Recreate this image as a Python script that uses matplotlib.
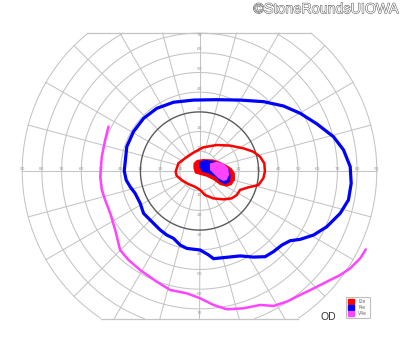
import numpy as np
import matplotlib
matplotlib.use("Agg")
import matplotlib.pyplot as plt
from matplotlib.patches import Patch
import matplotlib.patheffects as pe

# Goldmann visual field, right eye (OD). Coordinates in degrees (x = horizontal, y = vertical).

# I4e isopter (blue, closed)
i4e_x = [-38.2, -36.9, -33.5, -28.4, -21.7, -13.2, -3.0, 8.8, 20.6, 32.5, 42.6, 51.1, 59.6, 68.0,
         73.1, 76.5, 77.0, 75.6, 71.4, 64.6, 57.9, 51.1, 46.0, 41.8, 37.6, 33.3, 27.4, 20.6, 13.9,
         7.1, 4.6, 0.3, -6.4, -9.8, -13.2, -16.6, -20.0, -24.2, -28.4, -30.1, -32.7, -35.2, -37.2]
i4e_y = [0.0, 12.4, 20.0, 26.7, 31.8, 34.9, 36.0, 36.2, 36.0, 35.2, 33.0, 29.3, 23.9, 17.4,
         10.7, 2.2, -6.3, -14.7, -21.5, -28.3, -32.5, -34.7, -35.4, -37.6, -40.9, -43.5, -43.7, -43.1, -43.8,
         -44.5, -42.6, -40.1, -39.3, -37.6, -34.2, -32.5, -29.9, -25.7, -21.5, -16.4, -11.3, -8.0, -4.6]

# V4e isopter (magenta, open)
v4e_x = [-46.2, -47.9, -49.6, -50.4, -49.6, -47.9, -45.3, -42.8, -40.3, -36.0, -30.1, -21.7, -14.9,
         -6.4, 0.3, 7.1, 13.9, 22.3, 30.8, 37.6, 44.3, 51.1, 57.9, 64.6, 71.4, 76.5, 81.6, 84.4]
v4e_y = [22.5, 15.7, 7.3, -2.9, -9.6, -14.7, -21.5, -29.9, -40.1, -45.2, -50.3, -56.2, -60.4,
         -62.1, -64.6, -68.0, -70.2, -69.7, -68.0, -68.5, -66.3, -62.9, -59.6, -56.2, -52.8, -49.4, -44.3, -39.8]

# I2e isopter (red, closed)
i2e_x = [-12.1, -10.7, -7.4, -3.1, 1.9, 8.7, 15.5, 22.3, 27.3, 30.7, 32.9, 33.2, 32.4, 29.9, 24.8,
         20.6, 18.9, 16.3, 12.1, 7.0, 2.8, 0.3, -2.3, -5.7, -9.1, -11.6]
i2e_y = [-0.3, 3.9, 6.4, 9.3, 12.0, 13.2, 12.9, 11.5, 9.8, 7.3, 3.9, -0.3, -3.7, -7.1, -8.3,
         -9.6, -12.2, -13.9, -14.4, -13.9, -12.2, -9.6, -8.0, -6.6, -4.6, -2.4]

# central filled areas
red_fill_x = [-3.1, -1.4, 1.9, 7.0, 10.4, 13.8, 16.3, 18.0, 18.0, 16.3, 13.8, 10.4, 7.0, 3.6, 0.3, -2.3, -3.1]
red_fill_y = [3.9, 5.6, 6.1, 5.9, 4.7, 3.0, 1.4, -1.2, -4.6, -7.1, -8.0, -7.1, -4.6, -2.9, -2.0, -1.2, 1.4]
blue_fill_x = [-0.1, 2.8, 7.0, 11.3, 14.6, 15.8, 15.5, 12.9, 10.4, 7.9, 4.5, 1.1, -0.1]
blue_fill_y = [4.7, 5.6, 5.1, 3.9, 1.4, -2.0, -5.4, -6.8, -5.4, -2.9, -1.2, -0.3, 2.2]
mag_fill_x = [5.3, 8.7, 12.1, 14.6, 15.0, 13.8, 12.1, 9.6, 7.0, 5.3]
mag_fill_y = [3.9, 4.7, 3.9, 1.4, -2.0, -4.6, -5.1, -3.7, -1.2, 0.5]

rings = [10, 20, 30, 40, 50, 60, 70, 80, 90]
meridians = np.arange(0, 360, 15)
h_labels = [10, 20, 30, 40, 50, 60, 70, 80, 90]
v_labels_up = [10, 20, 30, 40, 50, 60, 70]
v_labels_down = [10, 20, 30, 40, 50, 60, 70]
legend_names = ["I2e", "I4e", "V4e"]
legend_colors = ["#ff0000", "#0000ff", "#ff44ff"]

TOP, BOTTOM, RMAX = 70, -75, 90
S = 1.97  # px per degree
grid_c = "#c4c4c4"

fig = plt.figure(figsize=(4, 3.52), dpi=100)
ax = fig.add_axes([0, 0, 1, 1])
ax.set_xlim(-199.5 / S, 200.5 / S)
ax.set_ylim(-181 / S, 171 / S)
ax.axis("off")


def clip_y(y):
    y = np.array(y, dtype=float)
    y[(y > TOP + 0.01) | (y < BOTTOM - 0.01)] = np.nan
    return y


t = np.linspace(0, 2 * np.pi, 721)
for r in rings:
    xs = r * np.cos(t)
    ys = clip_y(r * np.sin(t))
    if r == 30:
        ax.plot(xs, ys, color="#5a5a5a", lw=1.0, zorder=2)
    else:
        ax.plot(xs, ys, color=grid_c, lw=0.75, zorder=1)

for a in meridians:
    th = np.deg2rad(a)
    s = np.sin(th)
    rmax = RMAX
    if s > 1e-9:
        rmax = min(rmax, TOP / s)
    elif s < -1e-9:
        rmax = min(rmax, BOTTOM / s)
    r0 = 0 if a % 90 == 0 else 10
    ax.plot([r0 * np.cos(th), rmax * np.cos(th)], [r0 * s, rmax * s], color=grid_c, lw=0.75, zorder=1)

# top / bottom border
xt = np.sqrt(RMAX ** 2 - TOP ** 2)
xb = np.sqrt(RMAX ** 2 - BOTTOM ** 2)
ax.plot([-xt, xt], [TOP, TOP], color=grid_c, lw=0.9, zorder=1)
ax.plot([-xb, xb], [BOTTOM, BOTTOM], color=grid_c, lw=0.9, zorder=1)

lab_kw = dict(fontsize=3.2, color="#9a9a9a", ha="center", va="center", zorder=1.5)
for v in h_labels:
    ax.text(v, 1.0, str(v), **lab_kw)
    ax.text(-v, 1.0, str(v), **lab_kw)
for v in v_labels_up:
    ax.text(0, min(v + 1.7, 68.8), str(v), **lab_kw)
for v in v_labels_down:
    ax.text(0, -v - 2.3, str(v), **lab_kw)

# isopters
ax.fill(red_fill_x, red_fill_y, color="#ff0000", lw=0, zorder=4)
ax.fill(blue_fill_x, blue_fill_y, color="#0000ff", lw=0, zorder=5)
ax.fill(mag_fill_x, mag_fill_y, color="#ff44ff", lw=0, zorder=6)
ax.fill(i2e_x, i2e_y, facecolor="none", edgecolor="#ff0000", lw=1.8, zorder=3)
ax.fill(i4e_x, i4e_y, facecolor="none", edgecolor="#0000ff", lw=2.3, zorder=3)
ax.plot(v4e_x, v4e_y, color="#ff44ff", lw=1.8, solid_capstyle="round", zorder=3)

ax.text(328 / S - 199.5 / S, (171 - 317) / S, "OD", fontsize=7.5, color="#333333",
        ha="center", va="center", family="Liberation Sans")

handles = [Patch(facecolor=c, edgecolor=c, label=n) for n, c in zip(legend_names, legend_colors)]
leg = ax.legend(handles=handles, loc="upper left", bbox_to_anchor=(346 / 400, 1 - 297 / 352),
                fontsize=3.3, frameon=True, fancybox=False, edgecolor="#b0b0b0",
                borderpad=0.5, handlelength=1.3, handleheight=1.3, handletextpad=0.9,
                labelspacing=0.15, borderaxespad=0)
leg.get_frame().set_linewidth(0.8)
for txt in leg.get_texts():
    txt.set_color("#666666")

fig.text(0.996, 0.974, "\u00a9StoneRoundsUIOWA", fontsize=10.3, color="#fafafa",
         ha="right", va="center", family="Liberation Sans",
         path_effects=[pe.withStroke(linewidth=0.7, foreground="#555555")])

fig.savefig("out.png", dpi=100)
